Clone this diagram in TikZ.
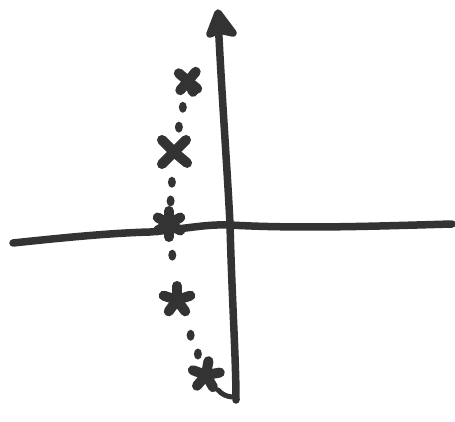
\documentclass[tikz,border=0pt]{standalone}
\usetikzlibrary{shapes.geometric}
\begin{document}
\begin{tikzpicture}[x=1pt,y=-1pt,
  ink/.style={draw=black!80,line width=7.5pt,line cap=round,line join=round},
  arm/.style={draw=black!80,line width=10pt,line cap=round},
  dotmark/.style={fill=black!80,ellipse,inner sep=0pt,minimum width=8pt,minimum height=11pt}]
\useasboundingbox (0,0) rectangle (455,422);
\fill[white] (0,0) rectangle (455,422);
% axes coordinates
\coordinate (hl) at (13,243);
\coordinate (hm) at (150,232);
\coordinate (hc) at (230,225);
\coordinate (hr) at (452,224);
\coordinate (vt) at (218,18);
\coordinate (vb) at (236,400);
\coordinate (tip) at (218,13);
\coordinate (wl) at (210,34);
\coordinate (wr) at (233,33);
% horizontal axis
\draw[ink] (hl) .. controls (60,238) and (110,233) .. (hm)
  .. controls (185,229) and (205,224) .. (hc)
  .. controls (300,229) and (380,226) .. (hr);
% vertical axis
\draw[ink] (vt) .. controls (222,100) and (228,180) .. (hc)
  .. controls (232,300) and (236,360) .. (vb);
% arrow head
\filldraw[ink,fill=black!80] (tip) -- (wl) -- (219,30) -- (wr) -- cycle;
% poles
\coordinate (p1) at (188,81);
\coordinate (p2) at (174,152);
\coordinate (p3) at (169,224);
\coordinate (p4) at (177,300);
\coordinate (p5) at (206,375);
\coordinate (t1) at (218,390);
\coordinate (t2) at (232,397);
\foreach \a in {40,130,220,310,65} \draw[arm] (p1) -- +(\a:12);
\foreach \a in {40,135,225,315} \draw[arm] (p2) -- +(\a:17);
\foreach \a in {30,90,150,210,270,330} \draw[arm] (p3) -- +(\a:13);
\foreach \a in {-90,-18,54,126,198} \draw[arm] (p4) -- +(\a:14);
\foreach \a in {-80,-10,60,130,200} \draw[arm] (p5) -- +(\a:14);
% dotted connectors
\path (p1) -- node[dotmark,pos=.37]{} node[dotmark,pos=.65]{} (p2);
\path (p2) -- node[dotmark,pos=.42]{} node[dotmark,pos=.68]{} (p3);
\path (p3) -- node[dotmark,pos=.41]{} (p4);
\path (p4) -- node[dotmark,pos=.47]{} node[dotmark,pos=.72]{} (p5);
\draw[draw=black!80,line width=5pt,line cap=round] (t1) to[bend right=20] (t2);
\end{tikzpicture}
\end{document}
